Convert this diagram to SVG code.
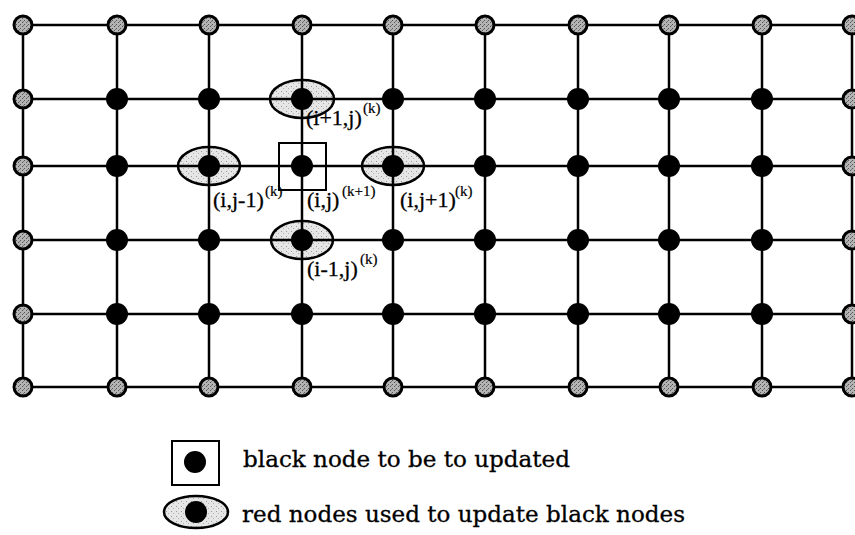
<svg xmlns="http://www.w3.org/2000/svg" width="855" height="535" viewBox="0 0 855 535">
  <style>
    .grid line { stroke: #000; stroke-width: 2.5; }
    .red circle { fill: url(#stipDark); stroke: #000; stroke-width: 3; }
    .black circle { fill: #000; }
    .halo { fill: url(#stipLight); stroke: #000; stroke-width: 2.5; }
    .box { fill: none; stroke: #000; stroke-width: 2; }
    .lbl { font-family: "Liberation Serif", "Times New Roman", serif; font-size: 22px; fill: #000; stroke: #000; stroke-width: 0.3; }
    .sup { font-family: "Liberation Serif", "Times New Roman", serif; font-size: 15px; fill: #000; stroke: #000; stroke-width: 0.2; }
    .legend { font-family: "DejaVu Serif", "Liberation Serif", serif; font-size: 22px; fill: #000; stroke: #000; stroke-width: 0.3; }
  </style>
  <defs>
    <pattern id="stipDark" width="4" height="4" patternUnits="userSpaceOnUse">
      <rect width="4" height="4" fill="#b4b4b4"/>
      <rect x="0" y="0" width="1" height="1" fill="#555"/>
      <rect x="2" y="2" width="1" height="1" fill="#555"/>
      <rect x="3" y="1" width="1" height="1" fill="#777"/>
    </pattern>
    <pattern id="stipLight" width="5" height="5" patternUnits="userSpaceOnUse">
      <rect width="5" height="5" fill="#e6e6e6"/>
      <rect x="1" y="1" width="1" height="1" fill="#9a9a9a"/>
      <rect x="3" y="3" width="1" height="1" fill="#b0b0b0"/>
    </pattern>
  </defs>

  <rect width="855" height="535" fill="#fff"/>

  <!-- highlighted neighbour regions (under the grid lines) -->
  <g id="halos">
    <ellipse class="halo" cx="302" cy="99" rx="32" ry="19"/>
    <ellipse class="halo" cx="209" cy="166" rx="31" ry="19"/>
    <ellipse class="halo" cx="393" cy="166" rx="31" ry="19"/>
    <ellipse class="halo" cx="302" cy="240" rx="31" ry="19"/>
  </g>

  <!-- connectors: the mesh lines -->
  <g id="connectors" class="grid">
    <line x1="23" y1="25" x2="852" y2="25"/>
    <line x1="23" y1="99" x2="852" y2="99"/>
    <line x1="23" y1="166" x2="852" y2="166"/>
    <line x1="23" y1="240" x2="852" y2="240"/>
    <line x1="23" y1="314" x2="852" y2="314"/>
    <line x1="23" y1="387" x2="852" y2="387"/>
    <line x1="23" y1="25" x2="23" y2="387"/>
    <line x1="117" y1="25" x2="117" y2="387"/>
    <line x1="209" y1="25" x2="209" y2="387"/>
    <line x1="302" y1="25" x2="302" y2="387"/>
    <line x1="393" y1="25" x2="393" y2="387"/>
    <line x1="485" y1="25" x2="485" y2="387"/>
    <line x1="578" y1="25" x2="578" y2="387"/>
    <line x1="669" y1="25" x2="669" y2="387"/>
    <line x1="762" y1="25" x2="762" y2="387"/>
    <line x1="852" y1="25" x2="852" y2="387"/>
  </g>

  <!-- boundary nodes (row 0) -->
  <g id="n0-0" class="red"><circle cx="23" cy="25" r="9"/></g>
  <g id="n0-1" class="red"><circle cx="117" cy="25" r="9"/></g>
  <g id="n0-2" class="red"><circle cx="209" cy="25" r="9"/></g>
  <g id="n0-3" class="red"><circle cx="302" cy="25" r="9"/></g>
  <g id="n0-4" class="red"><circle cx="393" cy="25" r="9"/></g>
  <g id="n0-5" class="red"><circle cx="485" cy="25" r="9"/></g>
  <g id="n0-6" class="red"><circle cx="578" cy="25" r="9"/></g>
  <g id="n0-7" class="red"><circle cx="669" cy="25" r="9"/></g>
  <g id="n0-8" class="red"><circle cx="762" cy="25" r="9"/></g>
  <g id="n0-9" class="red"><circle cx="852" cy="25" r="9"/></g>

  <!-- row 1 -->
  <g id="n1-0" class="red"><circle cx="23" cy="99" r="9"/></g>
  <g id="n1-1" class="black"><circle cx="117" cy="99" r="11"/></g>
  <g id="n1-2" class="black"><circle cx="209" cy="99" r="11"/></g>
  <g id="n1-3" class="black"><circle cx="302" cy="99" r="11"/></g>
  <g id="n1-4" class="black"><circle cx="393" cy="99" r="11"/></g>
  <g id="n1-5" class="black"><circle cx="485" cy="99" r="11"/></g>
  <g id="n1-6" class="black"><circle cx="578" cy="99" r="11"/></g>
  <g id="n1-7" class="black"><circle cx="669" cy="99" r="11"/></g>
  <g id="n1-8" class="black"><circle cx="762" cy="99" r="11"/></g>
  <g id="n1-9" class="red"><circle cx="852" cy="99" r="9"/></g>

  <!-- row 2 -->
  <g id="n2-0" class="red"><circle cx="23" cy="166" r="9"/></g>
  <g id="n2-1" class="black"><circle cx="117" cy="166" r="11"/></g>
  <g id="n2-2" class="black"><circle cx="209" cy="166" r="11"/></g>
  <g id="n2-3" class="black"><circle cx="302" cy="166" r="11"/></g>
  <g id="n2-4" class="black"><circle cx="393" cy="166" r="11"/></g>
  <g id="n2-5" class="black"><circle cx="485" cy="166" r="11"/></g>
  <g id="n2-6" class="black"><circle cx="578" cy="166" r="11"/></g>
  <g id="n2-7" class="black"><circle cx="669" cy="166" r="11"/></g>
  <g id="n2-8" class="black"><circle cx="762" cy="166" r="11"/></g>
  <g id="n2-9" class="red"><circle cx="852" cy="166" r="9"/></g>

  <!-- row 3 -->
  <g id="n3-0" class="red"><circle cx="23" cy="240" r="9"/></g>
  <g id="n3-1" class="black"><circle cx="117" cy="240" r="11"/></g>
  <g id="n3-2" class="black"><circle cx="209" cy="240" r="11"/></g>
  <g id="n3-3" class="black"><circle cx="302" cy="240" r="11"/></g>
  <g id="n3-4" class="black"><circle cx="393" cy="240" r="11"/></g>
  <g id="n3-5" class="black"><circle cx="485" cy="240" r="11"/></g>
  <g id="n3-6" class="black"><circle cx="578" cy="240" r="11"/></g>
  <g id="n3-7" class="black"><circle cx="669" cy="240" r="11"/></g>
  <g id="n3-8" class="black"><circle cx="762" cy="240" r="11"/></g>
  <g id="n3-9" class="red"><circle cx="852" cy="240" r="9"/></g>

  <!-- row 4 -->
  <g id="n4-0" class="red"><circle cx="23" cy="314" r="9"/></g>
  <g id="n4-1" class="black"><circle cx="117" cy="314" r="11"/></g>
  <g id="n4-2" class="black"><circle cx="209" cy="314" r="11"/></g>
  <g id="n4-3" class="black"><circle cx="302" cy="314" r="11"/></g>
  <g id="n4-4" class="black"><circle cx="393" cy="314" r="11"/></g>
  <g id="n4-5" class="black"><circle cx="485" cy="314" r="11"/></g>
  <g id="n4-6" class="black"><circle cx="578" cy="314" r="11"/></g>
  <g id="n4-7" class="black"><circle cx="669" cy="314" r="11"/></g>
  <g id="n4-8" class="black"><circle cx="762" cy="314" r="11"/></g>
  <g id="n4-9" class="red"><circle cx="852" cy="314" r="9"/></g>

  <!-- row 5 -->
  <g id="n5-0" class="red"><circle cx="23" cy="387" r="9"/></g>
  <g id="n5-1" class="red"><circle cx="117" cy="387" r="9"/></g>
  <g id="n5-2" class="red"><circle cx="209" cy="387" r="9"/></g>
  <g id="n5-3" class="red"><circle cx="302" cy="387" r="9"/></g>
  <g id="n5-4" class="red"><circle cx="393" cy="387" r="9"/></g>
  <g id="n5-5" class="red"><circle cx="485" cy="387" r="9"/></g>
  <g id="n5-6" class="red"><circle cx="578" cy="387" r="9"/></g>
  <g id="n5-7" class="red"><circle cx="669" cy="387" r="9"/></g>
  <g id="n5-8" class="red"><circle cx="762" cy="387" r="9"/></g>
  <g id="n5-9" class="red"><circle cx="852" cy="387" r="9"/></g>

  <!-- the node being updated -->
  <g id="target-box">
    <rect class="box" x="279" y="143" width="47" height="47"/>
  </g>

  <!-- stencil labels -->
  <g id="labels">
    <text class="lbl" x="306" y="125">(i+1,j)</text>
    <text class="sup" x="363" y="113">(k)</text>
    <text class="lbl" x="213" y="207">(i,j-1)</text>
    <text class="sup" x="265" y="196">(k)</text>
    <text class="lbl" x="307" y="207">(i,j)</text>
    <text class="sup" x="342" y="196">(k+1)</text>
    <text class="lbl" x="400" y="207">(i,j+1)</text>
    <text class="sup" x="455" y="196">(k)</text>
    <text class="lbl" x="307" y="276">(i-1,j)</text>
    <text class="sup" x="360" y="264">(k)</text>
  </g>

  <!-- legend -->
  <g id="legend-black">
    <rect class="box" x="172" y="441" width="47" height="44"/>
    <circle cx="195" cy="462" r="11" fill="#000"/>
    <text class="legend" x="243" y="467" textLength="327" lengthAdjust="spacingAndGlyphs">black node to be to updated</text>
  </g>
  <g id="legend-red">
    <ellipse class="halo" cx="196" cy="512" rx="32" ry="16"/>
    <circle cx="196" cy="512" r="11" fill="#000"/>
    <text class="legend" x="242" y="522" textLength="443" lengthAdjust="spacingAndGlyphs">red nodes used to update black nodes</text>
  </g>
</svg>
